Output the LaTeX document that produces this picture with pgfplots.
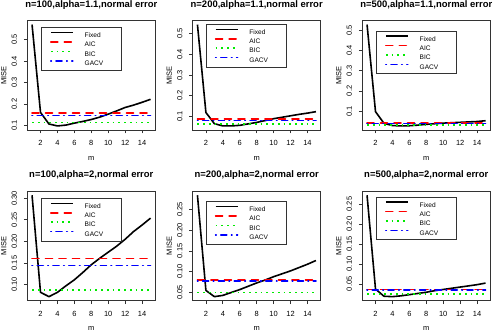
\documentclass[border=0pt]{standalone}
\usepackage{pgfplots}
\pgfplotsset{compat=1.18}
\usepackage{fontspec}
\setmainfont{Liberation Sans}
\definecolor{rred}{RGB}{255,0,0}
\definecolor{rgreen}{RGB}{0,235,0}
\definecolor{rblue}{RGB}{0,0,255}
\pgfplotsset{
  rplot/.style={
    anchor=south west,
    scale only axis, width=128bp, height=109.5bp,
    xmin=0.44, xmax=15.56, xtick={2,4,6,8,10,12,14},
    enlarge y limits={rel=0.04},
    scaled y ticks=false,
    axis line style={draw=black!80, line width=0.7bp},
    tick style={draw=black!80, line width=0.7bp},
    tick align=outside, major tick length=3.5bp,
    xtick pos=bottom, ytick pos=left,
    /pgf/number format/assume math mode=true,
    ticklabel style={font=\fontsize{7.5}{9}\selectfont, inner sep=0pt},
    xticklabel style={anchor=base, yshift=-11.9bp},
    yticklabel style={rotate=90, anchor=south, yshift=6.6bp},
    xlabel={m}, ylabel={MISE},
    every axis x label/.style={at={(axis description cs:0.5,0)}, anchor=base, yshift=-30.2bp, font=\fontsize{7.5}{9}\selectfont},
    every axis y label/.style={at={(axis description cs:0,0.5)}, rotate=90, anchor=center, yshift=23.5bp, font=\fontsize{7.5}{9}\selectfont},
    every axis title/.style={at={(axis description cs:0.5,1)}, anchor=base, yshift=13.3bp, font=\bfseries\fontsize{9.5}{11}\selectfont},
    legend style={anchor=north west, draw=black!80, line width=0.6bp, fill=white,
      inner xsep=9bp, inner ysep=4.5bp, font=\fontsize{6.6}{7.5}\selectfont,
      nodes={inner sep=0pt, text height=4.8bp, text depth=0bp},
      row sep=3.8bp, column sep=11bp},
    legend cell align=left,
    legend image code/.code={\draw[##1] (0bp,2.4bp) -- (22bp,2.4bp);},
  },
  fixedl/.style={black, line width=1.6bp, line join=round},
  aicl/.style={rred, line width=1.6bp, dash pattern=on 7bp off 6.5bp, line cap=round},
  bicl/.style={rgreen, line width=1.6bp, dash pattern=on 1.8bp off 3.95bp},
  gacvl/.style={rblue, line width=1.6bp, dash pattern=on 0.6bp off 4.6bp on 6bp off 4.6bp, line cap=round},
  fmtone/.style={ytick={0.1,0.2,0.3,0.4,0.5}, yticklabel style={/pgf/number format/.cd, fixed, precision=1}},
  fmttwo/.style={ytick={0.05,0.10,0.15,0.20,0.25,0.30}, yticklabel style={/pgf/number format/.cd, fixed, fixed zerofill, precision=2}},
}
\begin{document}
\begin{tikzpicture}
\useasboundingbox (0,0) rectangle (493bp,332bp);
% ---------- Panel 1
\begin{axis}[rplot, at={(27.3bp,202bp)}, fmtone,
  title={n=100,alpha=1.1,normal error},
  legend style={at={(0.105,0.94)}}]
\addplot[fixedl] coordinates {(1,0.570) (2,0.161) (3,0.107) (4,0.098) (5,0.102) (6,0.111) (7,0.119) (8,0.128) (9,0.139) (10,0.153) (11,0.168) (12,0.184) (13,0.195) (14,0.208) (15,0.222)};
\addlegendentry{\makebox[28bp][l]{Fixed}}
\addplot[aicl] coordinates {(1,0.158) (15,0.158)};
\addlegendentry{AIC}
\addplot[bicl] coordinates {(1,0.114) (15,0.114)};
\addlegendentry{BIC}
\addplot[gacvl] coordinates {(1,0.147) (15,0.147)};
\addlegendentry{GACV}
\end{axis}
% ---------- Panel 2
\begin{axis}[rplot, at={(192.7bp,202bp)}, fmtone,
  title={n=200,alpha=1.1,normal error},
  legend style={at={(0.10,0.97)}}]
\addplot[fixedl] coordinates {(1,0.544) (2,0.119) (3,0.065) (4,0.054) (5,0.054) (6,0.057) (7,0.064) (8,0.071) (9,0.080) (10,0.089) (11,0.096) (12,0.103) (13,0.110) (14,0.116) (15,0.123)};
\addlegendentry{\makebox[28bp][l]{Fixed}}
\addplot[aicl] coordinates {(1,0.087) (15,0.087)};
\addlegendentry{AIC}
\addplot[bicl] coordinates {(1,0.064) (15,0.064)};
\addlegendentry{BIC}
\addplot[gacvl] coordinates {(1,0.081) (15,0.081)};
\addlegendentry{GACV}
\end{axis}
% ---------- Panel 3
\begin{axis}[rplot, at={(362.3bp,202bp)}, fmtone,
  title={n=500,alpha=1.1,normal error},
  legend style={at={(0.105,0.907)}}]
\addplot[fixedl] coordinates {(1,0.530) (2,0.097) (3,0.039) (4,0.028) (5,0.026) (6,0.027) (7,0.030) (8,0.034) (9,0.037) (10,0.040) (11,0.042) (12,0.044) (13,0.046) (14,0.048) (15,0.052)};
\addlegendentry{\makebox[28bp][l]{Fixed}}
\addplot[aicl] coordinates {(1,0.040) (15,0.040)};
\addlegendentry{AIC}
\addplot[bicl] coordinates {(1,0.031) (15,0.031)};
\addlegendentry{BIC}
\addplot[gacvl] coordinates {(1,0.038) (15,0.038)};
\addlegendentry{GACV}
\end{axis}
% ---------- Panel 4
\begin{axis}[rplot, at={(27.3bp,31.3bp)}, fmttwo,
  title={n=100,alpha=2,normal error},
  legend style={at={(0.105,0.94)}}]
\addplot[fixedl] coordinates {(1,0.307) (2,0.082) (3,0.072) (4,0.082) (5,0.097) (6,0.111) (7,0.128) (8,0.146) (9,0.161) (10,0.175) (11,0.189) (12,0.205) (13,0.223) (14,0.238) (15,0.254)};
\addlegendentry{\makebox[28bp][l]{Fixed}}
\addplot[aicl] coordinates {(1,0.160) (15,0.160)};
\addlegendentry{AIC}
\addplot[bicl] coordinates {(1,0.087) (15,0.087)};
\addlegendentry{BIC}
\addplot[gacvl] coordinates {(1,0.144) (15,0.144)};
\addlegendentry{GACV}
\end{axis}
% ---------- Panel 5
\begin{axis}[rplot, at={(192.7bp,31.3bp)}, fmttwo,
  title={n=200,alpha=2,normal error},
  legend style={at={(0.10,0.91)}}]
\addplot[fixedl] coordinates {(1,0.284) (2,0.055) (3,0.040) (4,0.043) (5,0.050) (6,0.057) (7,0.065) (8,0.073) (9,0.080) (10,0.088) (11,0.095) (12,0.102) (13,0.110) (14,0.118) (15,0.127)};
\addlegendentry{\makebox[28bp][l]{Fixed}}
\addplot[aicl] coordinates {(1,0.080) (15,0.080)};
\addlegendentry{AIC}
\addplot[bicl] coordinates {(1,0.050) (15,0.050)};
\addlegendentry{BIC}
\addplot[gacvl] coordinates {(1,0.077) (15,0.077)};
\addlegendentry{GACV}
\end{axis}
% ---------- Panel 6
\begin{axis}[rplot, at={(362.3bp,31.3bp)}, fmttwo,
  title={n=500,alpha=2,normal error},
  legend style={at={(0.105,0.95)}}]
\addplot[fixedl] coordinates {(1,0.272) (2,0.037) (3,0.019) (4,0.018) (5,0.020) (6,0.023) (7,0.026) (8,0.029) (9,0.033) (10,0.036) (11,0.039) (12,0.042) (13,0.045) (14,0.048) (15,0.052)};
\addlegendentry{\makebox[28bp][l]{Fixed}}
\addplot[aicl] coordinates {(1,0.036) (15,0.036)};
\addlegendentry{AIC}
\addplot[bicl] coordinates {(1,0.025) (15,0.025)};
\addlegendentry{BIC}
\addplot[gacvl] coordinates {(1,0.034) (15,0.034)};
\addlegendentry{GACV}
\end{axis}
\end{tikzpicture}
\end{document}
